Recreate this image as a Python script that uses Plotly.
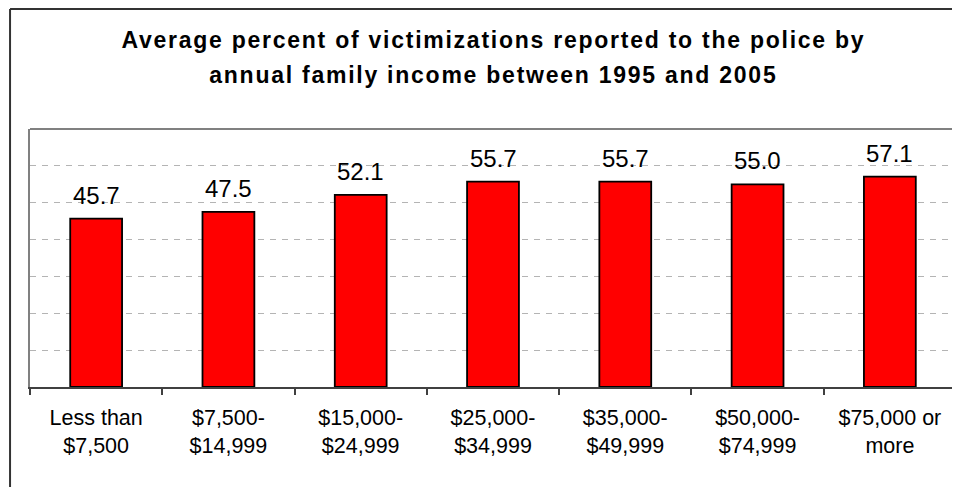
import plotly.graph_objects as go

categories = ["Less than<br>$7,500", "$7,500-<br>$14,999", "$15,000-<br>$24,999",
              "$25,000-<br>$34,999", "$35,000-<br>$49,999", "$50,000-<br>$74,999",
              "$75,000 or<br>more"]
values = [45.7, 47.5, 52.1, 55.7, 55.7, 55.0, 57.1]
value_labels = ["45.7", "47.5", "52.1", "55.7", "55.7", "55.0", "57.1"]
title_lines = ["Average percent of victimizations reported to the police by",
               "annual family income between 1995 and 2005"]

FONT = "Liberation Sans, Arial, sans-serif"

# The page body adds an 8px offset, so the figure is sized/positioned to compensate.
W, HT = 952, 479
L, R, T, B = 22, 2, 121, 100
PW = W - L - R          # plot width in px
PH = HT - T - B         # plot height in px


def px_x(fx):
    return (fx - L) / PW


def px_y(fy):
    return (HT - B - fy) / PH


fig = go.Figure()
fig.add_trace(go.Bar(
    x=categories, y=values,
    marker=dict(color="#FF0000", line=dict(color="#000000", width=1.8)),
    hoverinfo="skip",
))

# value labels
for c, v, t in zip(categories, values, value_labels):
    fig.add_annotation(x=c, y=v, text=t, showarrow=False, yanchor="bottom",
                       yshift=8, font=dict(family=FONT, size=24, color="#000000"))

# title lines
fig.add_annotation(xref="paper", yref="paper", x=px_x(486), y=px_y(32),
                   text="<b>%s</b>" % title_lines[0], showarrow=False,
                   xanchor="center", yanchor="middle",
                   font=dict(family=FONT, size=23, color="#000000"))
fig.add_annotation(xref="paper", yref="paper", x=px_x(486), y=px_y(67),
                   text="<b>%s</b>" % title_lines[1], showarrow=False,
                   xanchor="center", yanchor="middle",
                   font=dict(family=FONT, size=23, color="#000000"))

# outer chart border (left and top visible)
x0 = px_x(2)
ytop = px_y(1)
fig.add_shape(type="line", xref="paper", yref="paper", x0=x0, y0=ytop, x1=1.2, y1=ytop,
              line=dict(color="#333333", width=2))
fig.add_shape(type="line", xref="paper", yref="paper", x0=x0, y0=ytop, x1=x0, y1=-1,
              line=dict(color="#333333", width=2))
# plot-area top border
fig.add_shape(type="line", xref="paper", yref="paper", x0=0, y0=1, x1=1, y1=1,
              line=dict(color="#808080", width=2))

fig.update_layout(
    width=W, height=HT,
    margin=dict(l=L, r=R, t=T, b=B),
    paper_bgcolor="white", plot_bgcolor="white",
    bargap=0.608,
    showlegend=False,
    font=dict(family=FONT, color="#000000"),
)
fig.update_xaxes(
    showline=True, linecolor="#404040", linewidth=2,
    ticks="outside", tickson="boundaries", ticklen=6, tickcolor="#404040", tickwidth=1.5,
    ticklabelstandoff=10,
    tickfont=dict(family=FONT, size=21.5, color="#000000"),
    showgrid=False, zeroline=False,
)
fig.update_yaxes(
    range=[0, 70], dtick=10, showticklabels=False, ticks="",
    showline=True, mirror=True, linecolor="#808080", linewidth=2,
    showgrid=True, gridcolor="#b4b4b4", gridwidth=1, griddash="6px,6px",
    zeroline=False,
)

post = """
var gd = document.getElementById('{plot_id}');
gd.querySelectorAll('g.annotation text').forEach(function(t){
  var s = t.textContent;
  if (s.indexOf('Average') === 0 || s.indexOf('annual') === 0) {
    t.style.letterSpacing = '1.75px';
  }
});
"""
fig.write_html("out.html", post_script=post)
